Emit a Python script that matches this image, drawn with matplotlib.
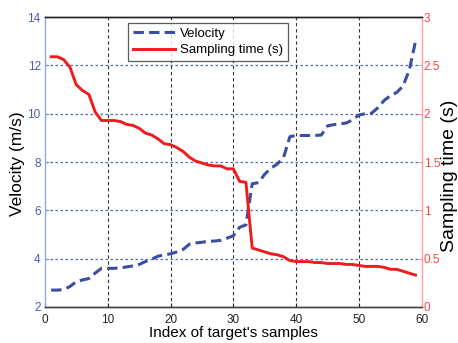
import matplotlib
matplotlib.use("Agg")
import matplotlib.pyplot as plt
import numpy as np

plt.rcParams['font.family'] = ['Liberation Sans', 'DejaVu Sans']

sample_index = list(range(1, 60))

velocity = [2.70, 2.70, 2.72, 2.85, 3.05, 3.12, 3.18, 3.40, 3.60, 3.60,
            3.60, 3.62, 3.66, 3.70, 3.76, 3.88, 3.98, 4.10, 4.16, 4.20,
            4.28, 4.38, 4.60, 4.65, 4.68, 4.72, 4.73, 4.76, 4.85, 4.95,
            5.30, 5.40, 7.10, 7.15, 7.50, 7.75, 7.92, 8.20, 9.05, 9.10,
            9.10, 9.10, 9.10, 9.12, 9.50, 9.55, 9.58, 9.62, 9.75, 9.95,
            10.00, 10.02, 10.25, 10.55, 10.75, 10.88, 11.15, 11.80, 13.00]

sampling_time = [2.59, 2.59, 2.56, 2.48, 2.30, 2.24, 2.20, 2.02, 1.93, 1.93,
                 1.93, 1.92, 1.89, 1.88, 1.85, 1.80, 1.78, 1.74, 1.69, 1.68,
                 1.65, 1.61, 1.55, 1.51, 1.49, 1.47, 1.46, 1.46, 1.43, 1.43,
                 1.30, 1.29, 0.61, 0.59, 0.57, 0.55, 0.54, 0.52, 0.48, 0.47,
                 0.47, 0.47, 0.46, 0.46, 0.45, 0.45, 0.45, 0.44, 0.44, 0.43,
                 0.42, 0.42, 0.42, 0.41, 0.39, 0.39, 0.37, 0.35, 0.33]

x_ticks = [0, 10, 20, 30, 40, 50, 60]
v_ticks = [2, 4, 6, 8, 10, 12, 14]
t_ticks = [0, 0.5, 1, 1.5, 2, 2.5, 3]
t_tick_labels = ["0", "0.5", "1", "1.5", "2", "2.5", "3"]

blue = "#3a4fa3"
red = "#ee1c1c"

fig = plt.figure(figsize=(4.58, 3.43), dpi=100)
ax = fig.add_axes([0.098, 0.105, 0.823, 0.845])
ax2 = ax.twinx()

l1, = ax.plot(sample_index, velocity, color=blue, lw=2.2, ls=(0, (3.4, 1.7)),
              label="Velocity")
l2, = ax2.plot(sample_index, sampling_time, color=red, lw=2.1,
               label="Sampling time (s)")

ax.set_xlim(0, 60)
ax.set_ylim(2, 14)
ax2.set_ylim(0, 3)
ax.set_xticks(x_ticks)
ax.set_yticks(v_ticks)
ax2.set_yticks(t_ticks)
ax2.set_yticklabels(t_tick_labels)

# grid: vertical black dashed, horizontal blue dotted
for xv in x_ticks[1:-1]:
    ax.axvline(xv, color="#333333", lw=0.8, ls=(0, (3, 2.5)), zorder=0)
for yv in v_ticks[1:-1]:
    ax.axhline(yv, color="#5566bb", lw=0.9, ls=(0, (2, 2)), zorder=0)

ax.tick_params(axis='x', direction='in', length=3, labelsize=8.5,
               colors='#222222', pad=5)
ax.tick_params(axis='y', direction='in', length=3, labelsize=8.5,
               colors='#8090cc', labelcolor='#4a5cb0', pad=3)
ax2.tick_params(axis='y', direction='in', length=3, labelsize=8.5,
                colors='#ff9a9a', labelcolor='#ff4444', pad=1.5)
ax.tick_params(top=False)

ax.spines['left'].set_color('#9aa6d8')
ax2.spines['left'].set_visible(False)
ax2.spines['right'].set_color('#ffa0a0')
ax.spines['right'].set_visible(False)
ax2.spines['top'].set_color('#222222')
ax2.spines['bottom'].set_color('#444444')
ax.spines['top'].set_color('#222222')
ax.spines['bottom'].set_color('#444444')
for s in ax2.spines.values():
    s.set_linewidth(1.0)
for s in ax.spines.values():
    s.set_linewidth(1.0)

ax.set_xlabel("Index of target's samples", fontsize=11, labelpad=0)
ax.set_ylabel("Velocity (m/s)", fontsize=12.5)
ax.yaxis.set_label_coords(-0.052, 0.495)
ax2.set_ylabel("Sampling time (s)", fontsize=14)
ax2.yaxis.set_label_coords(1.052, 0.452)

leg = ax2.legend(handles=[l1, l2], loc='upper left',
                 bbox_to_anchor=(0.221, 0.979), fontsize=9.5,
                 frameon=True, fancybox=False, borderpad=0.35,
                 handlelength=3.2, handletextpad=0.4, labelspacing=0.3,
                 borderaxespad=0)
leg.get_frame().set_edgecolor('#333333')
leg.get_frame().set_linewidth(0.9)

fig.savefig("out.png", dpi=100)
